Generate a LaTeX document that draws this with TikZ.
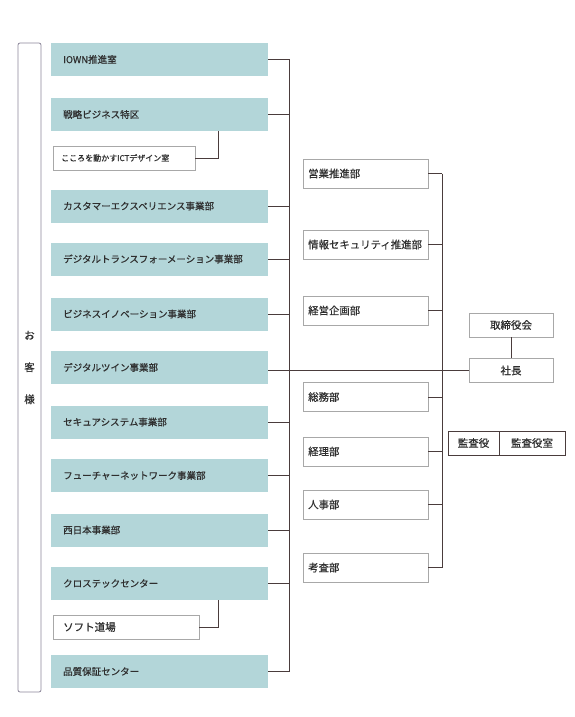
\documentclass[tikz,border=0pt]{standalone}
\usepackage{fontspec}
\setmainfont{Noto Sans CJK JP}[FakeBold=0.6]
\definecolor{unitfill}{HTML}{B3D6D9}
\definecolor{linebrown}{HTML}{4A3C3C}
\definecolor{boxgray}{HTML}{A8A8A8}
\definecolor{custline}{HTML}{8A8498}
\definecolor{textgray}{HTML}{2E2E2E}
\begin{document}
\begin{tikzpicture}[
        x=1pt, y=-1pt,
        every node/.style={text=textgray},
        unit/.style={rectangle, fill=unitfill, anchor=west, minimum height=33pt, text width=193pt, inner xsep=12pt, align=left, font=\fontsize{9.5}{11}\selectfont},
        subunit/.style={rectangle, draw=boxgray, fill=white, anchor=west, minimum height=24pt, text width=126pt, inner xsep=8pt, align=left, font=\fontsize{8}{10}\selectfont},
        staff/.style={rectangle, draw=boxgray, fill=white, anchor=west, minimum height=29pt, text width=115pt, inner xsep=5pt, align=left, font=\fontsize{10.4}{12}\selectfont},
        board/.style={rectangle, draw=boxgray, fill=white, minimum width=84pt, minimum height=24pt, font=\fontsize{10.5}{12}\selectfont},
        audit/.style={rectangle, draw=linebrown, fill=white, minimum height=24pt, font=\fontsize{10.5}{12}\selectfont},
        conn/.style={draw=linebrown, line width=0.8pt},
      ]
      \useasboundingbox (0,0) rectangle (575,717);

      %Customer
      \node[draw=custline, line width=0.8pt, rounded corners=2pt, minimum width=23pt, minimum height=649pt, align=center, font=\fontsize{10.5}{12}\selectfont]
        (kyaku) at (29.5,367.5) {お\\[20pt]客\\[20pt]様};

      %Business units
      \node[unit] (iown)     at (51,59.5)  {IOWN推進室};
      \node[unit] (senryaku) at (51,114.5) {戦略ビジネス特区};
      \node[subunit] (kokoro) at (53,158)  {こころを動かすICTデザイン室};
      \node[unit] (cx)       at (51,206)   {カスタマーエクスペリエンス事業部};
      \node[unit] (dx)       at (51,259)   {デジタルトランスフォーメーション事業部};
      \node[unit] (bi)       at (51,314)   {ビジネスイノベーション事業部};
      \node[unit] (dtwin)    at (51,367.5) {デジタルツイン事業部};
      \node[unit] (secure)   at (51,422)   {セキュアシステム事業部};
      \node[unit] (future)   at (51,475.5) {フューチャーネットワーク事業部};
      \node[unit] (nishi)    at (51,530)   {西日本事業部};
      \node[unit] (xtech)    at (51,583.5) {クロステックセンター};
      \node[subunit, inner xsep=10pt, text width=126pt, font=\fontsize{10.5}{12}\selectfont] (soft) at (53,627) {ソフト道場};
      \node[unit] (qa)       at (51,671.5) {品質保証センター};

      %Staff departments
      \node[staff] (eigyo)   at (303,173.5) {営業推進部};
      \node[staff] (joho)    at (303,244.5) {情報セキュリティ推進部};
      \node[staff] (keiei)   at (303,310.5) {経営企画部};
      \node[staff] (somu)    at (303,397)   {総務部};
      \node[staff] (keiri)   at (303,451.5) {経理部};
      \node[staff] (jinji)   at (303,504.5) {人事部};
      \node[staff] (kousa)   at (303,567.5) {考査部};

      %Top management
      \node[board] (torishimari) at (511,325) {取締役会};
      \node[board] (shacho)      at (511,370.5) {社長};
      \node[audit, minimum width=51pt] (kansayaku)  at (473.5,443) {監査役};
      \node[audit, minimum width=66pt] (kansashitsu) at (532,443) {監査役室};

      %Bus positions
      \coordinate (mainbus)  at (289,0);
      \coordinate (subbus)   at (218,0);
      \coordinate (staffbus) at (442,0);

      %Lines
      \draw[conn] (iown.east) -- (iown.east -| mainbus);
      \draw[conn] (senryaku.east) -- (senryaku.east -| mainbus);
      \draw[conn] (cx.east) -- (cx.east -| mainbus);
      \draw[conn] (dx.east) -- (dx.east -| mainbus);
      \draw[conn] (bi.east) -- (bi.east -| mainbus);
      \draw[conn] (secure.east) -- (secure.east -| mainbus);
      \draw[conn] (future.east) -- (future.east -| mainbus);
      \draw[conn] (nishi.east) -- (nishi.east -| mainbus);
      \draw[conn] (xtech.east) -- (xtech.east -| mainbus);
      \draw[conn] (qa.east) -- (qa.east -| mainbus);
      \draw[conn] (iown.east -| mainbus) -- (qa.east -| mainbus);

      \draw[conn] (kokoro.east) -| (subbus |- senryaku.south);
      \draw[conn] (soft.east) -| (subbus |- xtech.south);

      \draw[conn] (eigyo.east) -- (eigyo.east -| staffbus);
      \draw[conn] (joho.east) -- (joho.east -| staffbus);
      \draw[conn] (keiei.east) -- (keiei.east -| staffbus);
      \draw[conn] (somu.east) -- (somu.east -| staffbus);
      \draw[conn] (keiri.east) -- (keiri.east -| staffbus);
      \draw[conn] (jinji.east) -- (jinji.east -| staffbus);
      \draw[conn] (kousa.east) -- (kousa.east -| staffbus);
      \draw[conn] (eigyo.east -| staffbus) -- (kousa.east -| staffbus);

      \draw[conn] (torishimari) -- (shacho);
      \draw[conn] (dtwin.east |- shacho.west) -- (shacho.west);
    \end{tikzpicture}
\end{document}
